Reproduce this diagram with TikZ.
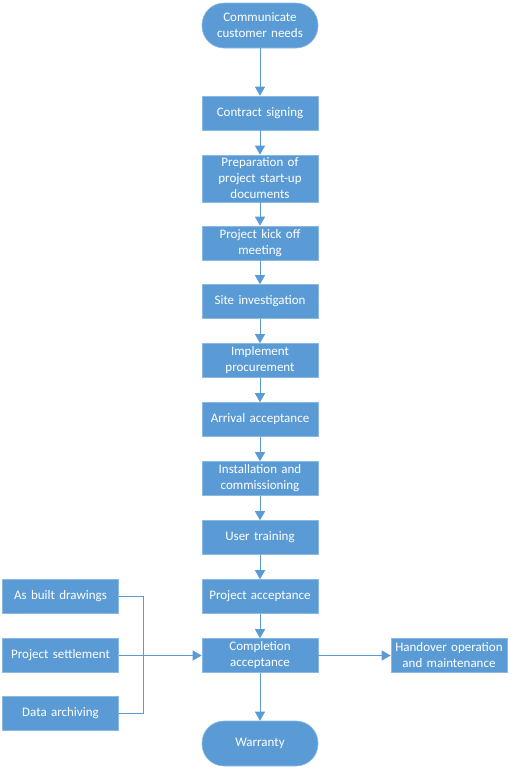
\documentclass[tikz,border=0pt]{standalone}
\usepackage{fontspec}
\setmainfont{Carlito}
\usetikzlibrary{arrows.meta,positioning}
\definecolor{flowblue}{HTML}{5B9BD5}

\begin{document}
\begin{tikzpicture}[
  x=1pt,y=-1pt,
  every node/.style={font=\fontsize{13}{16}\selectfont,text=white,align=center},
  stepbox/.style={rectangle,fill=flowblue,draw=flowblue!70!white,line width=0.6pt,
    minimum width=116pt,minimum height=34pt,inner sep=2pt,text width=112pt},
  endbox/.style={stepbox,rounded corners=22pt,minimum height=45pt},
  edge/.style={-{Triangle[length=9pt,width=10pt]},draw=flowblue,line width=1pt},
  cedge/.style={-,draw=flowblue,line width=1pt}
]
\useasboundingbox (0,0) rectangle (514,769);
% Main column
\node[endbox]  (needs)    at (260,25.5)  {Communicate\\customer needs};
\node[stepbox] (contract) at (260,113)   {Contract signing};
\node[stepbox,minimum height=47pt] (prep) at (260,178.5) {Preparation of\\project start-up\\documents};
\node[stepbox] (kickoff)  at (260,243)   {Project kick off\\meeting};
\node[stepbox] (site)     at (260,301.5) {Site investigation};
\node[stepbox] (procure)  at (260,360.5) {Implement\\procurement};
\node[stepbox] (arrival)  at (260,419.5) {Arrival acceptance};
\node[stepbox] (install)  at (260,478.5) {Installation and\\commissioning};
\node[stepbox] (training) at (260,537.5) {User training};
\node[stepbox] (projacc)  at (260,596.5) {Project acceptance};
\node[stepbox] (complete) at (260,655.5) {Completion\\acceptance};
\node[endbox]  (warranty) at (260,743.5) {Warranty};
% Side boxes
\node[stepbox,minimum width=115pt] (built)    at (60.5,596)   {As built drawings};
\node[stepbox,minimum width=115pt] (settle)   at (60.5,655.5) {Project settlement};
\node[stepbox,minimum width=115pt] (archive)  at (60.5,713.5) {Data archiving};
\node[stepbox] (handover) at (449,655.5) {Handover operation\\and maintenance};
\coordinate (join) at (143,655.5);
% Main flow
\draw[edge] (needs) -- (contract);
\draw[edge] (contract) -- (prep);
\draw[edge] (prep) -- (kickoff);
\draw[edge] (kickoff) -- (site);
\draw[edge] (site) -- (procure);
\draw[edge] (procure) -- (arrival);
\draw[edge] (arrival) -- (install);
\draw[edge] (install) -- (training);
\draw[edge] (training) -- (projacc);
\draw[edge] (projacc) -- (complete);
\draw[edge] (complete) -- (warranty);
\draw[edge] (complete) -- (handover);
% Documents feeding completion
\draw[cedge] (built.east) -| (join);
\draw[cedge] (archive.east) -| (join);
\draw[edge] (settle) -- (complete);
\end{tikzpicture}
\end{document}
